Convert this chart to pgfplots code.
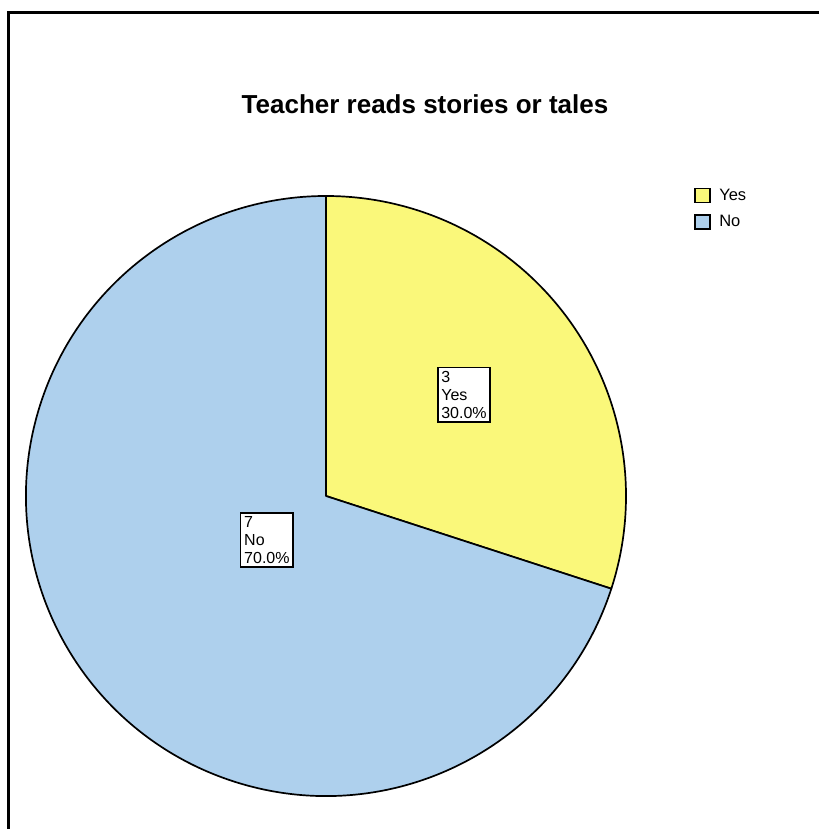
\documentclass[border=0pt]{standalone}
\usepackage{fontspec}
\setmainfont{Liberation Sans}
\usepackage{pgfplots}
\usepackage{pgfplotstable}
\pgfplotsset{compat=1.18}
\pgfkeys{/pgf/number format/assume math mode=true}
\definecolor{yesc}{RGB}{250,248,122}
\definecolor{noc}{RGB}{174,208,237}
\pgfplotstableread{
label count
Yes 3
No 7
}\piedata
\begin{document}
\begin{tikzpicture}[x=1pt,y=1pt]
\useasboundingbox (0,0) rectangle (819,829);
\draw[line width=2.4pt] (819,816.5) -- (8.5,816.5) -- (8.5,0);
\node[font=\bfseries\fontsize{26}{30}\selectfont] at (425,725) {Teacher reads stories or tales};
\pgfplotstablegetelem{0}{count}\of\piedata \pgfmathsetmacro\cy{\pgfplotsretval}
\pgfplotstablegetelem{1}{count}\of\piedata \pgfmathsetmacro\cn{\pgfplotsretval}
\pgfmathsetmacro\tot{\cy+\cn}
\pgfmathsetmacro\ay{90-360*\cy/\tot}
\pgfmathsetmacro\an{\ay-360*\cn/\tot}
\pgfmathsetmacro\py{100*\cy/\tot}
\pgfmathsetmacro\pn{100*\cn/\tot}
\begin{axis}[at={(326pt,333pt)}, anchor=center, width=600pt, height=600pt, scale only axis,
  xmin=-1, xmax=1, ymin=-1, ymax=1, hide axis, clip=false,
  legend image code/.code={\draw[#1,line width=1.5pt] (0pt,-7pt) rectangle (15pt,7pt); \path (22pt,0pt);},
  legend style={at={(axis cs:1.227,1.03)}, anchor=north west, draw=none, fill=none,
    font=\fontsize{16.5}{19}\selectfont, row sep=9.5pt, inner sep=0pt,
    cells={anchor=west}},
]
\filldraw[fill=yesc, draw=black, line width=1.7pt, line join=round]
  (axis cs:0,0) -- (axis cs:0,1) arc[start angle=90, end angle=\ay, radius=300pt] -- cycle;
\filldraw[fill=noc, draw=black, line width=1.7pt, line join=round]
  (axis cs:0,0) -- ({axis cs:{cos(\ay)},{sin(\ay)}}) arc[start angle=\ay, end angle=\an, radius=300pt] -- cycle;
\addlegendimage{fill=yesc, draw=black}
\addlegendentry{Yes}
\addlegendimage{fill=noc, draw=black}
\addlegendentry{No}
\node[draw, fill=white, line width=1.5pt, align=left, inner sep=3.5pt,
  font=\fontsize{16}{18}\selectfont] at (axis cs:0.46,0.337)
  {\pgfmathprintnumber[fixed,precision=0]{\cy}\\Yes\\\pgfmathprintnumber[fixed,fixed zerofill,precision=1]{\py}\%};
\node[draw, fill=white, line width=1.5pt, align=left, inner sep=3.5pt,
  font=\fontsize{16}{18}\selectfont] at (axis cs:-0.197,-0.147)
  {\pgfmathprintnumber[fixed,precision=0]{\cn}\\No\\\pgfmathprintnumber[fixed,fixed zerofill,precision=1]{\pn}\%};
\end{axis}
\end{tikzpicture}
\end{document}
